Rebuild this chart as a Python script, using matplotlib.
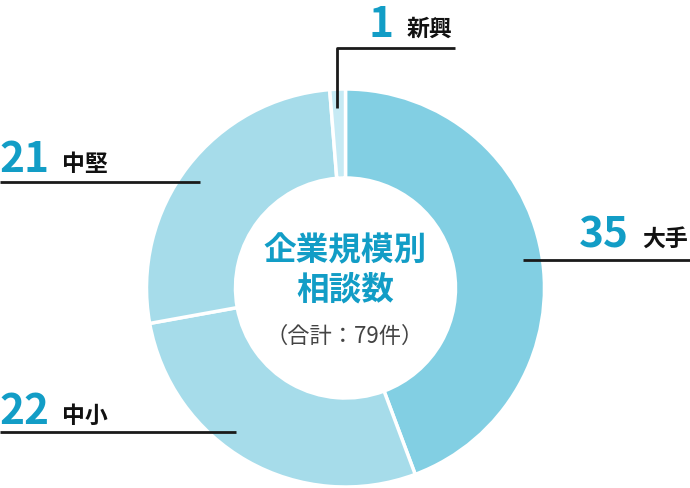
import matplotlib.pyplot as plt
import numpy as np

plt.rcParams["font.family"] = ["Noto Sans CJK JP", "DejaVu Sans"]

# data
categories = ["大手", "中小", "中堅", "新興"]
counts = [35, 22, 21, 1]
colors = ["#82cfe3", "#a6dcea", "#a6dcea", "#c6eaf4"]

W, H = 690, 488
fig = plt.figure(figsize=(W / 100, H / 100), dpi=100)
ax = fig.add_axes([0, 0, 1, 1])

cx, cy = 345.5, H - 288
r_out, r_in = 199, 110

ax.pie(counts, colors=colors, startangle=90, counterclock=False,
       center=(cx, cy), radius=r_out, frame=True,
       wedgeprops=dict(width=r_out - r_in, edgecolor="white", linewidth=2.5))
ax.set_xlim(0, W)
ax.set_ylim(0, H)
ax.set_aspect("equal")
ax.axis("off")

num_color = "#129dc6"

# leader lines (pixel coords, y from top)
def line(xs, ys):
    ax.plot(xs, [H - y for y in ys], color="#1a1a1a", lw=2, solid_capstyle="butt")

line([337, 337, 455], [108, 48, 48])
line([0, 200], [182, 182])
line([523, 690], [260, 260])
line([0, 236], [432, 432])

# labels: (number right edge x, baseline y)
label_pos = {
    "新興": (394, 37),
    "中堅": (49, 172),
    "大手": (629, 247),
    "中小": (49, 424),
}
for cat, n in zip(categories, counts):
    xr, yb = label_pos[cat]
    ax.text(xr, H - yb, str(n), ha="right", va="baseline", fontsize=30.5,
            fontweight="bold", color=num_color)
    ax.text(xr + 13, H - yb + 1, cat, ha="left", va="baseline", fontsize=16.5,
            fontweight="bold", color="#111111")

# centre text
ax.text(cx, H - 251, "企業規模別", ha="center", va="center", fontsize=23.5,
        fontweight="bold", color=num_color)
ax.text(cx, H - 290, "相談数", ha="center", va="center", fontsize=23.5,
        fontweight="bold", color=num_color)
ax.text(cx - 1, H - 336, "（合計：79件）", ha="center", va="center", fontsize=16,
        color="#444444")

fig.savefig("out.png", dpi=100)
